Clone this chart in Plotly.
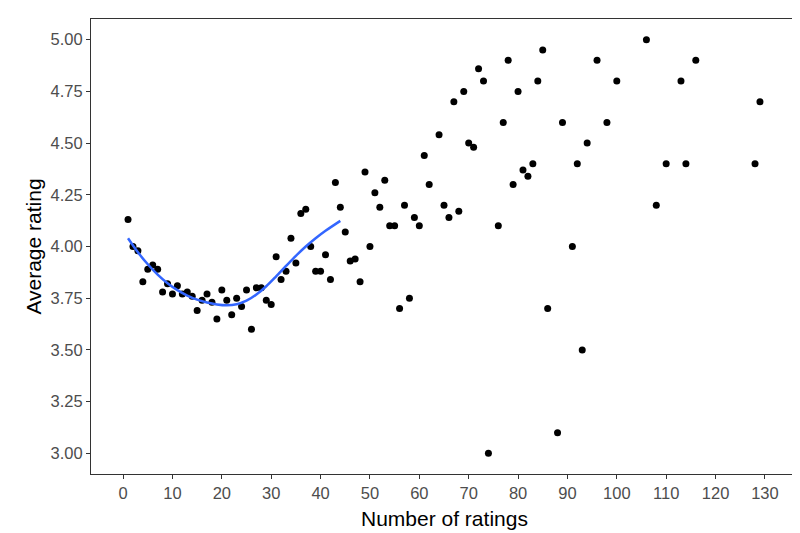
import plotly.graph_objects as go

# number of ratings per item vs. its average rating
n_ratings = [1, 2, 3, 4, 5, 6, 7, 8, 9, 10, 11, 12, 13, 14, 15, 16, 17, 18, 19, 20,
             21, 22, 23, 24, 25, 26, 27, 28, 29, 30, 31, 32, 33, 34, 35, 36, 37, 38, 39, 40,
             41, 42, 43, 44, 45, 46, 47, 48, 49, 50, 51, 52, 53, 54, 55, 56, 57, 58, 59, 60,
             61, 62, 64, 65, 66, 67, 68, 69, 70, 71, 72, 73, 74, 76, 77, 78, 79, 80, 81, 82,
             83, 84, 85, 86, 88, 89, 91, 92, 93, 94, 96, 98, 100, 106, 108, 110, 113, 114, 116, 128,
             129]
avg_rating = [4.13, 4.00, 3.98, 3.83, 3.89, 3.91, 3.89, 3.78, 3.82, 3.77, 3.81, 3.77, 3.78, 3.76, 3.69, 3.74, 3.77, 3.73, 3.65, 3.79,
              3.74, 3.67, 3.75, 3.71, 3.79, 3.60, 3.80, 3.80, 3.74, 3.72, 3.95, 3.84, 3.88, 4.04, 3.92, 4.16, 4.18, 4.00, 3.88, 3.88,
              3.96, 3.84, 4.31, 4.19, 4.07, 3.93, 3.94, 3.83, 4.36, 4.00, 4.26, 4.19, 4.32, 4.10, 4.10, 3.70, 4.20, 3.75, 4.14, 4.10,
              4.44, 4.30, 4.54, 4.20, 4.14, 4.70, 4.17, 4.75, 4.50, 4.48, 4.86, 4.80, 3.00, 4.10, 4.60, 4.90, 4.30, 4.75, 4.37, 4.34,
              4.40, 4.80, 4.95, 3.70, 3.10, 4.60, 4.00, 4.40, 3.50, 4.50, 4.90, 4.60, 4.80, 5.00, 4.20, 4.40, 4.80, 4.40, 4.90, 4.40,
              4.70]

# smoothed trend
smooth_x = [1, 3, 5, 7, 9, 11, 13, 15, 17, 19, 21, 23, 25, 27, 29, 31, 33, 35, 37, 39, 41, 44]
smooth_y = [4.040, 3.972, 3.914, 3.864, 3.822, 3.789, 3.763, 3.743, 3.729, 3.720, 3.716, 3.721,
            3.738, 3.768, 3.808, 3.856, 3.906, 3.955, 4.000, 4.040, 4.076, 4.124]

x_ticks = list(range(0, 140, 10))
y_ticks = [3.00, 3.25, 3.50, 3.75, 4.00, 4.25, 4.50, 4.75, 5.00]

fig = go.Figure()
fig.add_trace(go.Scatter(x=n_ratings, y=avg_rating, mode='markers',
                         marker=dict(color='black', size=7), showlegend=False))
fig.add_trace(go.Scatter(x=smooth_x, y=smooth_y, mode='lines',
                         line=dict(color='#3366FF', width=2.5, shape='spline', smoothing=0.8),
                         showlegend=False))

axis_style = dict(showline=True, mirror=True, linecolor='#333333', linewidth=1,
                  ticks='outside', ticklen=4, tickwidth=1, tickcolor='#333333',
                  showgrid=False, zeroline=False, automargin=False,
                  tickfont=dict(family='Liberation Sans, Arial', size=16.5, color='#4D4D4D'))

fig.update_layout(
    width=800, height=533,
    margin=dict(l=83, r=11, t=11, b=67),
    paper_bgcolor='white', plot_bgcolor='white',
    font=dict(family='Liberation Sans, Arial', color='black'),
    xaxis=dict(range=[-6.5, 136.5], tickvals=x_ticks, **axis_style),
    yaxis=dict(range=[2.9, 5.1], tickvals=y_ticks, tickformat='.2f', **axis_style),
)

# axis titles
fig.add_annotation(text='Number of ratings', xref='paper', yref='paper',
                   x=0.5, y=-0.097, xanchor='center', yanchor='middle',
                   showarrow=False, font=dict(size=21, color='black'))
fig.add_annotation(text='Average rating', xref='paper', yref='paper',
                   x=-0.082, y=0.5, xanchor='center', yanchor='middle', textangle=-90,
                   showarrow=False, font=dict(size=21, color='black'))

fig.write_html("out.html")
